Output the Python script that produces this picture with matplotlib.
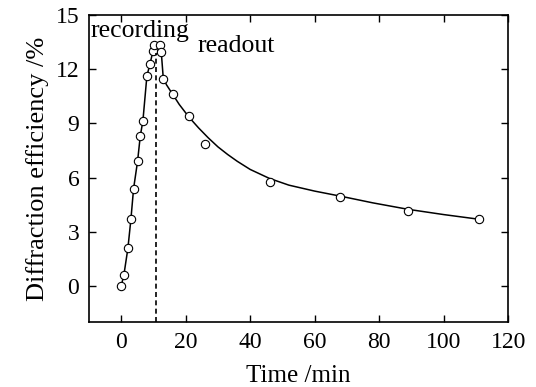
import matplotlib.pyplot as plt

# recording phase (measured points, joined by straight lines)
t_rec = [0.0, 0.83, 2.07, 3.0, 3.83, 5.07, 5.9, 6.73, 7.97, 8.9, 9.83, 10.25]
de_rec = [0.0, 0.61, 2.08, 3.68, 5.38, 6.9, 8.29, 9.15, 11.64, 12.27, 13.0, 13.35]

# readout phase (measured points)
t_read = [11.9, 12.4, 13.0, 16.05, 20.9, 26.0, 46.0, 68.0, 88.9, 111.0]
de_read = [13.35, 12.98, 11.45, 10.62, 9.39, 7.88, 5.75, 4.93, 4.16, 3.69]

# readout fit curve
t_fit = [11.9, 12.4, 13.0, 14.0, 16.0, 18.0, 21.0, 24.0, 27.0, 30.0, 33.0,
         36.0, 40.0, 46.0, 52.0, 60.0, 68.0, 78.0, 89.0, 100.0, 111.0]
de_fit = [13.35, 13.0, 11.6, 11.15, 10.6, 10.05, 9.35, 8.75, 8.2, 7.7, 7.28,
          6.9, 6.45, 5.95, 5.58, 5.25, 4.97, 4.6, 4.24, 3.95, 3.69]

t_switch = 10.9
de_switch_top = 12.9

plt.rcParams['font.family'] = 'Liberation Serif'

fig = plt.figure(figsize=(5.36, 3.87), dpi=100)
ax = fig.add_axes([0.166, 0.168, 0.782, 0.793])

ax.plot(t_rec, de_rec, color='black', lw=1.1)
ax.plot(t_fit, de_fit, color='black', lw=1.1)
ax.plot(t_rec, de_rec, 'o', mfc='white', mec='black', ms=6, mew=0.8)
ax.plot(t_read, de_read, 'o', mfc='white', mec='black', ms=6, mew=0.8)
ax.plot([t_switch, t_switch], [-2, de_switch_top], color='black', lw=1.2,
        ls=(0, (3, 2)))

ax.text(-9.5, 14.1, 'recording', fontsize=18.5, va='center', ha='left')
ax.text(23.8, 13.3, 'readout', fontsize=18.5, va='center', ha='left')

ax.set_xlim(-10, 120)
ax.set_ylim(-2, 15)
ax.set_xticks([0, 20, 40, 60, 80, 100, 120])
ax.set_yticks([0, 3, 6, 9, 12, 15])
ax.tick_params(direction='in', top=True, right=True, length=5, width=1,
               labelsize=17, pad=7)
for s in ax.spines.values():
    s.set_linewidth(1.2)

ax.set_xlabel('Time /min', fontsize=18, labelpad=9)
ax.set_ylabel('Diffraction efficiency /%', fontsize=19, labelpad=5)

fig.savefig('out.png', dpi=100)
